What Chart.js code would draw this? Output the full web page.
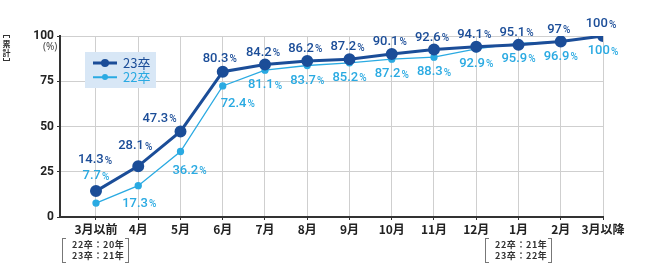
<!DOCTYPE html>
<html>
<head>
<meta charset="utf-8">
<script src="https://cdn.jsdelivr.net/npm/chart.js@4"></script>
<style>
  html, body { margin: 0; padding: 0; background: #fff; }
  #wrap { position: relative; width: 650px; height: 280px; overflow: hidden; font-family: "Noto Sans CJK JP", "Noto Sans", sans-serif; }
  #wrap canvas { position: absolute; left: 0; top: 0; }
  .ytitle { position: absolute; left: 2px; top: 35px; width: 9px; font-family: "Noto Sans CJK JP", sans-serif; font-size: 8px; font-weight: 700; color: #333; line-height: 9px; text-align: center; }
  .ytitle .bt { height: 2px; border: 1px solid #333; border-bottom: none; margin: 0 1px 1px 1px; }
  .ytitle .bb { height: 2px; border: 1px solid #333; border-top: none; margin: 1px 1px 0 1px; }
  .unit { position: absolute; left: 43px; top: 39px; font-size: 10px; color: #444; font-family: "Noto Sans", sans-serif; }
  .legend { position: absolute; left: 85px; top: 52px; width: 71px; height: 36px; background: #d8e7f6; }
  .legend .row { position: absolute; left: 8px; height: 14px; display: flex; align-items: center; }
  .legend .sw { position: relative; width: 24px; height: 14px; margin-right: 6px; }
  .legend .sw i { position: absolute; left: 0; right: 0; top: 50%; transform: translateY(-50%); }
  .legend .sw b { position: absolute; left: 50%; top: 50%; transform: translate(-50%, -50%); border-radius: 50%; }
  .legend .lab { font-size: 13px; line-height: 14px; font-family: "Noto Sans CJK JP", sans-serif; }
  .bracket { position: absolute; top: 238px; width: 67px; height: 25px; border: 1px solid #777; box-sizing: border-box; font-size: 9px; font-weight: 700; color: #333; line-height: 10.5px; padding: 1px 0 0 9px; letter-spacing: 0.6px; white-space: nowrap; }
  .bracket::before { content: ''; position: absolute; left: 3px; right: 3px; top: -1px; bottom: -1px; border-top: 1px solid #fff; border-bottom: 1px solid #fff; }
</style>
</head>
<body>
<div id="wrap">
  <canvas id="c" width="650" height="280"></canvas>
  <div class="ytitle"><div class="bt"></div>累<br>計<div class="bb"></div></div>
  <div class="unit">(%)</div>
  <div class="legend">
    <div class="row" style="top:4px"><span class="sw"><i style="height:3px;background:#1b4d98"></i><b style="width:8px;height:8px;background:#1b4d98"></b></span><span class="lab" style="color:#1b4d98">23卒</span></div>
    <div class="row" style="top:18px"><span class="sw"><i style="height:1.5px;background:#2aaae2"></i><b style="width:6px;height:6px;background:#2aaae2"></b></span><span class="lab" style="color:#2aaae2">22卒</span></div>
  </div>
  <div class="bracket" style="left:62px">22卒：20年<br>23卒：21年</div>
  <div class="bracket" style="left:485px">22卒：21年<br>23卒：22年</div>
</div>
<script>
// ---- data ----
const categories = ['3月以前', '4月', '5月', '6月', '7月', '8月', '9月', '10月', '11月', '12月', '1月', '2月', '3月以降'];
const series23 = [14.3, 28.1, 47.3, 80.3, 84.2, 86.2, 87.2, 90.1, 92.6, 94.1, 95.1, 97, 100];
const series22 = [7.7, 17.3, 36.2, 72.4, 81.1, 83.7, 85.2, 87.2, 88.3, 92.9, 95.9, 96.9, 100];
const yTicks = [0, 25, 50, 75, 100];
const seriesNames = ['23卒', '22卒'];

// ---- styling / label placement (not data) ----
const DARK = '#1b4d98';
const LIGHT = '#2aaae2';
const labelPlacement = {
  '23卒': { def: [-2, -12], special: { 0: [-1, -31], 1: [-3, -20], 2: [-21, -13], 3: [-3, -13] } },
  '22卒': { def: [0, 15], special: { 0: [0, -27], 1: [1, 18], 2: [9, 19], 3: [15, 18] } }
};

const valueLabels = {
  id: 'valueLabels',
  afterDatasetsDraw(chart) {
    const ctx = chart.ctx;
    chart.data.datasets.forEach((ds, di) => {
      const meta = chart.getDatasetMeta(di);
      const place = labelPlacement[ds.label];
      meta.data.forEach((pt, i) => {
        const v = ds.data[i].y;
        const off = place.special[i] || place.def;
        const cx = pt.x + off[0], cy = pt.y + off[1];
        const num = String(v);
        ctx.save();
        ctx.fillStyle = ds.borderColor;
        ctx.textBaseline = 'middle';
        ctx.textAlign = 'left';
        const f1 = '500 13px Roboto, "Noto Sans", sans-serif';
        const f2 = '500 10px Roboto, "Noto Sans", sans-serif';
        ctx.font = f1;
        const w1 = ctx.measureText(num).width;
        ctx.font = f2;
        const w2 = ctx.measureText('%').width;
        const x0 = cx - (w1 + w2 + 1) / 2;
        ctx.font = f1;
        ctx.fillText(num, x0, cy);
        ctx.font = f2;
        ctx.fillText('%', x0 + w1 + 1, cy + 1);
        ctx.restore();
      });
    });
  }
};

new Chart(document.getElementById('c'), {
  type: 'line',
  data: {
    datasets: [
      {
        label: seriesNames[1],
        data: series22.map((v, i) => ({ x: i, y: v })),
        borderColor: LIGHT, backgroundColor: LIGHT,
        borderWidth: 1.3, pointRadius: 3, pointHoverRadius: 3, tension: 0, order: 2
      },
      {
        label: seriesNames[0],
        data: series23.map((v, i) => ({ x: i, y: v })),
        borderColor: DARK, backgroundColor: DARK,
        borderWidth: 3, pointRadius: 4.5, pointHoverRadius: 4.5, tension: 0, order: 1
      }
    ]
  },
  options: {
    responsive: false,
    animation: false,
    layout: { padding: { top: 36, right: 47, left: 0, bottom: 0 } },
    plugins: { legend: { display: false }, tooltip: { enabled: false } },
    scales: {
      x: {
        type: 'linear',
        min: -0.852,
        max: categories.length - 1,
        afterBuildTicks: (s) => { s.ticks = categories.map((_, i) => ({ value: i })); },
        afterFit: (s) => { s.height = 63; },
        ticks: {
          callback: (v) => categories[v] ?? '',
          color: '#222',
          font: { family: '"Noto Sans CJK JP", sans-serif', size: 12, weight: 'bold' },
          padding: 2,
          maxRotation: 0,
          autoSkip: false
        },
        grid: { color: '#cfcfcf', lineWidth: 1, tickLength: 3, tickColor: '#333', drawOnChartArea: true },
        border: { color: '#333', width: 2 }
      },
      y: {
        min: 0, max: 100,
        afterBuildTicks: (s) => { s.ticks = yTicks.map(v => ({ value: v })); },
        afterFit: (s) => { s.width = 60; },
        ticks: {
          color: '#222',
          font: { family: 'Roboto, "Noto Sans", sans-serif', size: 12, weight: 'bold' },
          padding: 3
        },
        grid: { color: '#cfcfcf', lineWidth: 1, tickLength: 3, tickColor: '#333' },
        border: { color: '#333', width: 2 }
      }
    }
  },
  plugins: [valueLabels]
});
</script>
</body>
</html>
